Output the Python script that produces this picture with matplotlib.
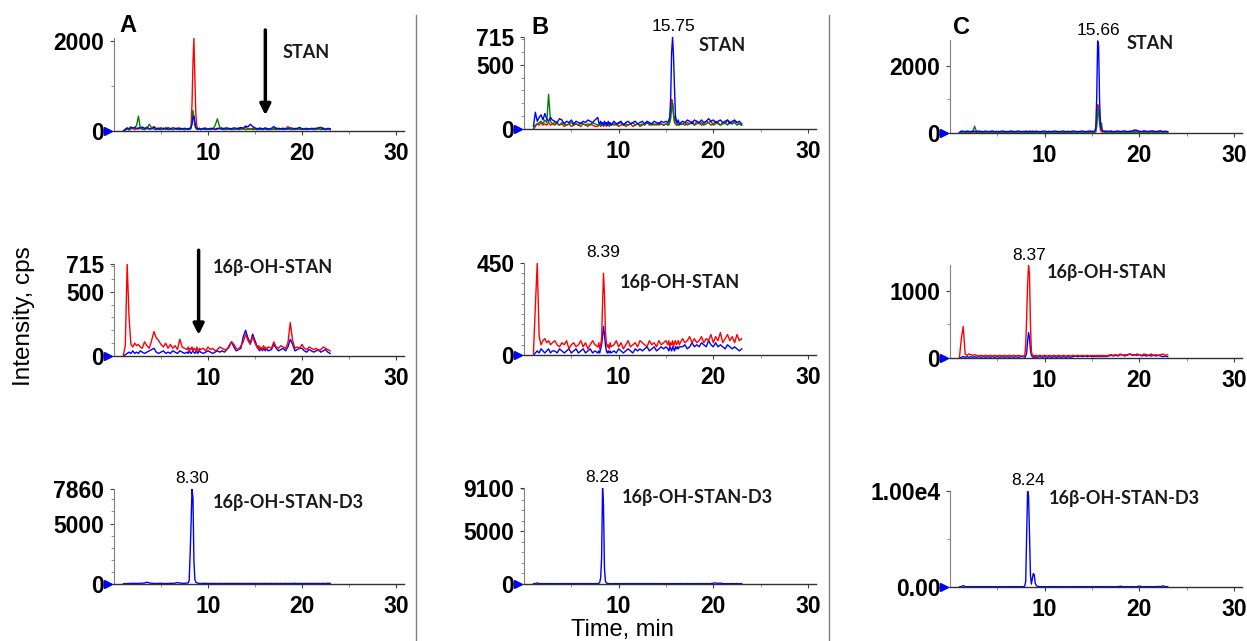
import numpy as np
import matplotlib
matplotlib.use('Agg')
import matplotlib.pyplot as plt
from matplotlib.ticker import FixedLocator, MultipleLocator
from matplotlib.lines import Line2D
from matplotlib.transforms import ScaledTranslation, blended_transform_factory

plt.rcParams['font.family'] = ['Liberation Sans', 'DejaVu Sans']
plt.rcParams['font.weight'] = 'bold'

# retention time grid (min), finer around the peaks
rt = [1.0, 1.2, 1.4, 1.6, 1.8, 2.0, 2.2, 2.4, 2.6, 2.8, 3.0,
      3.25, 3.5, 3.75, 4.0, 4.25, 4.5, 4.75, 5.0, 5.25, 5.5, 5.75, 6.0, 6.25, 6.5, 6.75, 7.0, 7.25, 7.5,
      7.8, 7.9, 8.0, 8.1, 8.2, 8.3, 8.4, 8.5, 8.6, 8.7, 8.8, 8.9, 9.0, 9.1, 9.2,
      9.5, 9.75, 10.0, 10.25, 10.5, 10.75, 11.0, 11.25, 11.5, 11.75, 12.0, 12.25, 12.5, 12.75,
      13.0, 13.25, 13.5, 13.75, 14.0, 14.25, 14.5, 14.75, 15.0,
      15.2, 15.3, 15.4, 15.5, 15.6, 15.7, 15.8, 15.9, 16.0, 16.1, 16.2, 16.3, 16.4,
      16.75, 17.0, 17.25, 17.5, 17.75, 18.0, 18.25, 18.5, 18.75, 19.0, 19.25, 19.5, 19.75,
      20.0, 20.25, 20.5, 20.75, 21.0, 21.25, 21.5, 21.75, 22.0, 22.25, 22.5, 22.75, 23.0]

# ---- panel A ----
a1_red = [0, 30, 60, 20, 50, 70, 30, 60, 40, 80, 50,
          40, 90, 50, 60, 100, 40, 70, 30, 60, 30, 80, 50, 30, 40, 70, 60, 40, 30,
          50, 30, 60, 40, 120, 600, 1500, 2050, 1200, 400, 120, 50, 40, 60, 30,
          50, 70, 30, 50, 60, 30, 40, 70, 70, 40, 30, 60, 50, 30, 40, 70, 60, 40, 80, 50, 40, 60, 50,
          30, 50, 40, 60, 30, 50, 40, 30, 60, 40, 50, 30, 40,
          40, 50, 70, 30, 40, 60, 50, 100, 40, 30, 60, 30, 50, 40, 60, 30, 50, 40, 60, 30, 50, 40, 70, 30, 40, 30]
a1_green = [0, 20, 40, 30, 60, 50, 80, 120, 330, 60, 40,
            30, 50, 150, 70, 40, 30, 50, 30, 40, 50, 30, 40, 30, 50, 40, 30, 40, 30,
            40, 30, 50, 40, 60, 200, 460, 300, 120, 60, 40, 30, 50, 40, 30,
            40, 30, 50, 30, 40, 120, 270, 80, 40, 30, 50, 40, 30, 40, 50, 30, 40, 60, 30, 40, 50, 30, 40,
            30, 40, 30, 50, 40, 30, 40, 30, 50, 40, 30, 40, 30,
            30, 40, 30, 50, 40, 30, 40, 50, 30, 40, 30, 50, 40, 30, 40, 30, 50, 40, 30, 40, 50, 30, 40, 30, 40, 30]
a1_blue = [0, 40, 70, 50, 90, 60, 80, 50, 70, 60, 90,
           60, 70, 40, 50, 80, 60, 40, 70, 50, 70, 40, 50, 70, 60, 40, 60, 50, 60,
           50, 40, 60, 50, 80, 150, 300, 330, 200, 90, 60, 40, 50, 60, 40,
           60, 50, 40, 60, 50, 40, 60, 50, 40, 60, 70, 50, 50, 70, 60, 50, 80, 60, 110, 90, 150, 100, 70,
           50, 60, 40, 70, 50, 60, 40, 50, 60, 70, 50, 60, 40,
           60, 100, 50, 60, 50, 60, 40, 50, 70, 60, 50, 60, 80, 50, 40, 60, 40, 60, 50, 60, 70, 80, 50, 40, 60, 50]
a2_red = [10, 80, 715, 300, 90, 70, 100, 80, 90, 70, 60,
          110, 80, 60, 120, 190, 140, 120, 90, 70, 100, 60, 90, 60, 80, 50, 130, 70, 60,
          50, 70, 40, 60, 50, 70, 40, 60, 50, 40, 70, 50, 40, 60, 50,
          60, 40, 70, 50, 60, 40, 50, 70, 60, 50, 50, 70, 110, 90, 60, 50, 80, 110, 170, 120, 90, 150, 100,
          70, 60, 80, 50, 70, 60, 50, 80, 60, 70, 50, 60, 70,
          60, 110, 70, 60, 80, 70, 60, 100, 260, 120, 60, 70, 60, 90, 60, 50, 70, 60, 50, 60, 40, 50, 70, 60, 50, 40]
a2_blue = [0, 10, 20, 30, 20, 40, 20, 30, 20, 40, 30,
           20, 30, 40, 50, 60, 30, 20, 30, 40, 20, 30, 20, 40, 30, 20, 40, 30, 20,
           30, 20, 40, 30, 20, 30, 40, 30, 20, 30, 40, 20, 30, 40, 30,
           20, 30, 40, 30, 20, 30, 40, 30, 40, 30, 50, 80, 110, 70, 40, 50, 60, 150, 200, 140, 100, 170, 120,
           80, 60, 50, 40, 60, 50, 40, 60, 50, 40, 60, 50, 40,
           50, 90, 60, 40, 50, 60, 40, 70, 130, 90, 40, 50, 60, 60, 40, 30, 50, 40, 30, 40, 50, 30, 40, 50, 30, 20]
a3_blue = [20, 40, 30, 50, 40, 60, 50, 40, 60, 50, 70,
           80, 150, 90, 60, 50, 40, 50, 60, 40, 50, 40, 60, 50, 70, 120, 80, 60, 60,
           80, 100, 300, 2500, 5000, 7860, 7100, 2000, 400, 150, 100, 80, 60, 50, 40,
           50, 60, 40, 50, 40, 50, 40, 50, 40, 50, 40, 50, 40, 50, 40, 50, 40, 50, 40, 50, 40, 50, 40,
           40, 50, 40, 50, 40, 50, 40, 50, 40, 50, 40, 50, 40,
           50, 40, 50, 40, 50, 40, 50, 40, 50, 40, 60, 40, 50, 40, 50, 40, 50, 40, 50, 40, 50, 40, 50, 40, 60, 50]

# ---- panel B ----
b1_red = [0, 20, 40, 30, 50, 30, 40, 30, 50, 30, 40,
          30, 50, 30, 40, 20, 30, 40, 20, 30, 40, 30, 20, 40, 30, 20, 40, 30, 20,
          20, 30, 40, 20, 30, 40, 20, 30, 40, 20, 30, 40, 20, 30, 40,
          30, 40, 20, 30, 40, 20, 30, 40, 20, 30, 40, 20, 30, 40, 50, 30, 40, 30, 40, 30, 40, 30, 40,
          30, 40, 60, 150, 230, 200, 100, 50, 40, 30, 40, 30, 40,
          40, 30, 50, 40, 60, 30, 40, 50, 30, 40, 60, 50, 30, 40, 60, 40, 30, 50, 40, 70, 50, 40, 60, 50, 40, 30]
b1_green = [0, 30, 40, 50, 60, 40, 70, 50, 270, 60, 40,
            50, 40, 30, 50, 40, 30, 40, 50, 30, 40, 30, 50, 40, 30, 40, 30, 50, 40,
            30, 40, 30, 40, 30, 40, 30, 40, 30, 40, 30, 40, 30, 40, 30,
            40, 30, 40, 50, 30, 40, 30, 40, 50, 30, 40, 30, 40, 30, 50, 40, 30, 40, 30, 50, 40, 30, 40,
            40, 30, 50, 80, 170, 200, 120, 60, 100, 40, 30, 40, 30,
            40, 50, 30, 40, 50, 30, 60, 40, 50, 30, 40, 50, 60, 30, 40, 50, 30, 40, 50, 30, 60, 40, 50, 30, 40, 30]
b1_blue = [20, 130, 60, 90, 110, 70, 120, 80, 60, 90, 70,
           60, 50, 80, 70, 40, 60, 50, 70, 40, 60, 50, 40, 60, 50, 70, 60, 50, 70,
           90, 50, 40, 60, 40, 50, 30, 60, 40, 50, 30, 60, 40, 50, 30,
           60, 40, 50, 60, 30, 50, 60, 40, 50, 60, 40, 50, 60, 40, 60, 50, 40, 60, 50, 40, 60, 50, 60,
           50, 70, 90, 250, 600, 715, 560, 320, 100, 60, 50, 70, 40,
           60, 50, 70, 60, 40, 70, 60, 50, 70, 50, 60, 80, 60, 70, 50, 60, 70, 50, 60, 70, 40, 60, 70, 50, 60, 40]
b2_red = [10, 240, 450, 90, 50, 70, 80, 60, 70, 50, 60,
          70, 50, 40, 60, 50, 70, 30, 50, 60, 40, 50, 70, 40, 60, 30, 50, 70, 50,
          40, 60, 30, 50, 80, 250, 400, 300, 120, 60, 40, 50, 30, 60, 40,
          50, 70, 40, 60, 30, 50, 70, 40, 50, 60, 40, 70, 60, 50, 40, 70, 50, 60, 40, 70, 50, 60, 70,
          50, 70, 40, 60, 50, 70, 40, 60, 70, 50, 60, 70, 50,
          80, 60, 70, 90, 60, 80, 60, 70, 90, 60, 80, 70, 100, 60, 90, 70, 110, 60, 80, 100, 70, 90, 60, 100, 70, 80]
b2_blue = [0, 10, 20, 10, 30, 20, 10, 20, 30, 10, 20,
           20, 10, 30, 20, 10, 20, 30, 10, 20, 30, 10, 20, 30, 10, 20, 30, 10, 20,
           10, 20, 10, 30, 50, 90, 140, 100, 50, 20, 10, 20, 10, 20, 10,
           20, 10, 30, 20, 10, 20, 30, 20, 10, 30, 20, 30, 20, 30, 40, 20, 30, 40, 20, 30, 40, 30, 40,
           30, 20, 40, 30, 20, 40, 30, 20, 40, 30, 40, 30, 40,
           40, 50, 30, 40, 60, 40, 50, 40, 60, 50, 40, 70, 50, 40, 60, 40, 50, 40, 30, 50, 40, 30, 40, 30, 20, 30]
b3_blue = [20, 40, 100, 40, 30, 40, 30, 40, 30, 40, 30,
           30, 40, 30, 40, 30, 40, 30, 40, 30, 40, 30, 40, 30, 40, 30, 40, 30, 40,
           40, 60, 150, 600, 2500, 9100, 7400, 1500, 300, 100, 60, 40, 30, 40, 30,
           30, 40, 30, 40, 30, 40, 30, 40, 30, 40, 30, 40, 30, 40, 30, 40, 30, 40, 30, 40, 30, 40, 30,
           30, 40, 30, 40, 30, 40, 30, 40, 30, 40, 30, 40, 30,
           40, 30, 40, 30, 40, 30, 40, 30, 40, 30, 40, 30, 40, 80, 100, 60, 80, 40, 30, 40, 30, 40, 30, 40, 30, 40]

# ---- panel C ----
c1_red = [0, 20, 30, 20, 30, 20, 30, 20, 30, 20, 30,
          20, 30, 20, 30, 20, 30, 20, 30, 20, 30, 20, 30, 20, 30, 20, 30, 20, 30,
          30, 20, 30, 20, 30, 20, 30, 20, 30, 20, 30, 20, 30, 20, 30,
          20, 30, 20, 30, 20, 30, 20, 30, 20, 30, 20, 30, 20, 30, 20, 30, 20, 30, 20, 30, 20, 30, 20,
          30, 40, 60, 300, 850, 700, 300, 80, 40, 30, 40, 30, 40,
          30, 40, 30, 40, 30, 40, 50, 40, 30, 50, 40, 60, 40, 50, 40, 60, 40, 50, 40, 60, 40, 50, 60, 40, 50, 40]
c1_green = [0, 20, 30, 20, 30, 20, 30, 40, 200, 40, 30,
            20, 30, 20, 30, 20, 30, 20, 30, 20, 30, 20, 30, 20, 30, 20, 30, 20, 30,
            30, 20, 30, 20, 30, 20, 30, 20, 30, 20, 30, 20, 30, 20, 30,
            20, 30, 20, 30, 20, 30, 20, 30, 20, 30, 20, 30, 20, 30, 20, 30, 20, 30, 20, 30, 20, 30, 20,
            30, 20, 40, 200, 600, 740, 400, 150, 300, 80, 40, 30, 20,
            30, 20, 30, 20, 30, 20, 30, 20, 30, 20, 30, 20, 30, 20, 30, 20, 30, 20, 30, 20, 30, 20, 30, 20, 30, 20]
c1_blue = [20, 60, 50, 40, 60, 50, 40, 60, 50, 40, 60,
           50, 40, 60, 40, 50, 60, 40, 50, 40, 60, 50, 40, 50, 60, 40, 50, 60, 40,
           50, 40, 60, 50, 40, 50, 60, 40, 50, 60, 40, 50, 40, 60, 50,
           40, 50, 60, 40, 50, 40, 60, 50, 40, 50, 60, 40, 50, 40, 60, 50, 40, 50, 60, 40, 50, 60, 50,
           50, 60, 150, 1050, 2750, 2600, 1000, 250, 120, 80, 60, 50, 60,
           50, 60, 40, 50, 60, 40, 50, 60, 40, 50, 60, 90, 80, 50, 40, 60, 50, 40, 60, 50, 40, 50, 60, 40, 50, 40]
c2_red = [10, 290, 470, 60, 40, 60, 50, 40, 50, 40, 30,
          40, 30, 40, 30, 40, 30, 40, 30, 40, 30, 40, 30, 40, 30, 40, 30, 40, 30,
          30, 40, 200, 600, 1100, 1380, 1250, 500, 100, 40, 30, 40, 30, 40, 30,
          40, 30, 40, 30, 40, 30, 40, 30, 40, 30, 40, 30, 40, 30, 40, 30, 40, 30, 40, 30, 40, 30, 40,
          30, 40, 30, 40, 30, 40, 30, 40, 30, 40, 30, 40, 30,
          40, 50, 40, 50, 40, 60, 40, 50, 40, 60, 50, 40, 60, 50, 40, 60, 50, 40, 60, 40, 50, 40, 50, 60, 40, 50]
c2_blue = [0, 10, 20, 10, 20, 10, 20, 10, 20, 10, 20,
           10, 20, 10, 20, 10, 20, 10, 20, 10, 20, 10, 20, 10, 20, 10, 20, 10, 20,
           20, 10, 30, 80, 250, 380, 300, 120, 40, 20, 10, 20, 10, 20, 10,
           20, 10, 20, 10, 20, 10, 20, 10, 20, 10, 20, 10, 20, 10, 20, 30, 20, 30, 20, 30, 20, 30, 20,
           20, 30, 20, 30, 20, 30, 20, 30, 20, 30, 20, 30, 20,
           30, 40, 30, 40, 30, 50, 40, 30, 50, 60, 40, 50, 40, 50, 30, 40, 30, 40, 30, 40, 30, 40, 30, 20, 30, 20]
c3_blue = [20, 40, 150, 40, 30, 40, 30, 40, 30, 40, 30,
           40, 30, 40, 30, 40, 30, 40, 30, 40, 30, 40, 30, 40, 30, 40, 30, 40, 30,
           40, 100, 600, 5500, 10000, 9500, 5500, 1200, 300, 900, 1400, 1300, 400, 200, 80,
           40, 30, 40, 30, 40, 30, 40, 30, 40, 30, 40, 30, 40, 30, 40, 30, 40, 30, 40, 30, 40, 30, 40,
           40, 30, 40, 30, 40, 30, 40, 30, 40, 30, 40, 30, 40,
           40, 30, 40, 30, 40, 80, 40, 30, 40, 30, 40, 30, 40, 100, 40, 30, 40, 30, 40, 30, 40, 50, 40, 120, 40, 30]

compounds = ['STAN', '16β-OH-STAN', '16β-OH-STAN-D3']
ytops = [[2060, 715, 7860], [715, 450, 9100], [2776, 1386, 10000]]
yticks = [[[0, 2000], [0, 500, 715], [0, 5000, 7860]],
          [[0, 500, 715], [0, 450], [0, 5000, 9100]],
          [[0, 2000], [0, 1000], [0, 10000]]]
yticklabels = [[['0', '2000'], ['0', '500', '715'], ['0', '5000', '7860']],
               [['0', '500', '715'], ['0', '450'], ['0', '5000', '9100']],
               [['0', '2000'], ['0', '1000'], ['0.00', '1.00e4']]]
yminor = [[1000, 100, 1000], [100, 50, 1000], [1000, 500, 5000]]
peak_rt = [[None, None, '8.30'], ['15.75', '8.39', '8.28'], ['15.66', '8.37', '8.24']]
traces = [[[('red', a1_red), ('green', a1_green), ('blue', a1_blue)],
           [('blue', a2_blue), ('red', a2_red)],
           [('blue', a3_blue)]],
          [[('red', b1_red), ('green', b1_green), ('blue', b1_blue)],
           [('blue', b2_blue), ('red', b2_red)],
           [('blue', b3_blue)]],
          [[('red', c1_red), ('green', c1_green), ('blue', c1_blue)],
           [('blue', c2_blue), ('red', c2_red)],
           [('blue', c3_blue)]]]
colors = {'red': '#ff0000', 'green': '#008000', 'blue': '#0000ff'}

# axes boxes in pixels: left, top, right, bottom
W, H = 1247, 641
boxes = [[(114, 38, 404, 131), (114, 264, 404, 356), (114, 489, 404, 584)],
         [(524, 37, 816, 129), (524, 263, 816, 355), (524, 488, 816, 584)],
         [(950, 40, 1242, 133), (950, 265, 1242, 358), (950, 491, 1242, 587)]]
# compound label anchors (axes fraction, left edge)
name_pos = [[(0.58, 0.84), (0.341, 0.967), (0.341, 0.853)],
            [(0.596, 0.913), (0.329, 0.783), (0.336, 0.896)],
            [(0.606, 0.957), (0.332, 0.914), (0.339, 0.927)]]

fig = plt.figure(figsize=(W / 100, H / 100), dpi=100)
axes = {}
for c in range(3):
    for r in range(3):
        l, t, rr, b = boxes[c][r]
        ax = fig.add_axes([l / W, 1 - b / H, (rr - l) / W, (b - t) / H])
        axes[(c, r)] = ax
        for col, y in traces[c][r]:
            assert len(y) == len(rt), (c, r, col, len(y))
            ax.plot(rt, y, color=colors[col], lw=1.0)
        ax.set_xlim(0, 30.85)
        ax.set_ylim(0, ytops[c][r])
        ax.xaxis.set_major_locator(FixedLocator([10, 20, 30]))
        ax.xaxis.set_minor_locator(FixedLocator([5, 15, 25]))
        ax.yaxis.set_major_locator(FixedLocator(yticks[c][r]))
        ax.set_yticklabels(yticklabels[c][r])
        ax.yaxis.set_minor_locator(MultipleLocator(yminor[c][r]))
        ax.spines['top'].set_visible(False)
        ax.spines['right'].set_visible(False)
        ax.spines['left'].set_color('#808080')
        ax.spines['left'].set_linewidth(0.8)
        ax.spines['bottom'].set_color('#303030')
        ax.spines['bottom'].set_linewidth(1.0)
        ax.tick_params(axis='both', which='major', labelsize=16.5, length=3,
                       color='#404040', width=0.8)
        ax.tick_params(axis='both', which='minor', length=2, color='#808080', width=0.6)
        ax.tick_params(axis='x', pad=5)
        ax.tick_params(axis='y', pad=4)
        ax.patch.set_alpha(0)
        # blue start marker at the origin
        off = ScaledTranslation(-4 / 72, 0, fig.dpi_scale_trans)
        ax.plot([0], [0], marker='>', ms=6, color='#0000ff', clip_on=False,
                transform=ax.transData + off, zorder=5)
        nx, ny = name_pos[c][r]
        ax.text(nx, ny, compounds[r], transform=ax.transAxes, fontsize=13,
                family=['Lato', 'Open Sans', 'DejaVu Sans'], fontweight='bold',
                color='#1a1a1a', ha='left', va='center')
        if peak_rt[c][r] is not None:
            ymax = max(max(tr[1]) for tr in traces[c][r])
            ax.annotate(peak_rt[c][r], (float(peak_rt[c][r]), ymax),
                        xytext=(0, 2), textcoords='offset points',
                        ha='center', va='bottom', fontsize=12.5, fontweight='normal',
                        annotation_clip=False)

# arrows pointing at expected retention times in panel A
for r, (xa, y0, y1) in enumerate([(16.1, 1.086, 0.17), (9.0, 1.15, 0.23)]):
    ax = axes[(0, r)]
    tr = blended_transform_factory(ax.transData, ax.transAxes)
    ax.annotate('', xy=(xa, y1), xycoords=tr, xytext=(xa, y0), textcoords=tr,
                arrowprops=dict(arrowstyle='-|>', color='black', lw=2.5,
                                mutation_scale=16, shrinkA=0, shrinkB=0),
                annotation_clip=False)

for letter, (px, py) in zip('ABC', [(128, 25), (540, 28), (962, 27)]):
    fig.text(px / W, 1 - py / H, letter, fontsize=17, fontweight='bold',
             ha='center', va='center')

fig.text(24 / W, 1 - 316 / H, 'Intensity, cps', rotation=90, fontsize=17.5,
         fontweight='normal', ha='center', va='center')
fig.text(622 / W, 1 - 619 / H, 'Time, min', fontsize=17, fontweight='normal',
         ha='center', va='top')

for xs in (416, 829):
    fig.add_artist(Line2D([xs / W, xs / W], [0, 1 - 15 / H], color='#808080', lw=1.0))

fig.savefig('out.png', dpi=100)
